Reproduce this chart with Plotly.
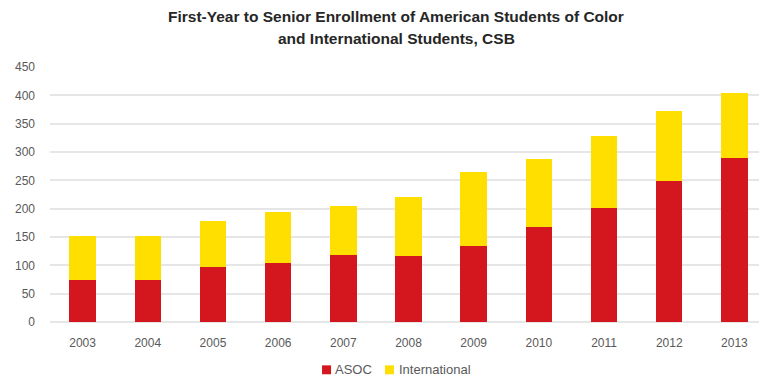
import plotly.graph_objects as go

years = ["2003", "2004", "2005", "2006", "2007", "2008", "2009", "2010", "2011", "2012", "2013"]
asoc = [75, 75, 97, 105, 119, 116, 134, 167, 201, 249, 290]
international = [77, 77, 81, 89, 86, 104, 130, 120, 127, 123, 114]
y_ticks = [0, 50, 100, 150, 200, 250, 300, 350, 400, 450]
series_names = ["ASOC", "International"]
series_colors = ["#D4161E", "#FFDF00"]
title_lines = ["First-Year to Senior Enrollment of American Students of Color",
               "and International Students, CSB"]

FONT = "Liberation Sans Narrow, Arial Narrow, Liberation Sans, sans-serif"

fig = go.Figure()
for name, vals, col in zip(series_names, [asoc, international], series_colors):
    fig.add_trace(go.Bar(x=years, y=vals, name=name, marker=dict(color=col, line=dict(width=0))))

# page body has an 8px margin; figure sized so that the plot lands where the reference has it
fig.update_layout(
    width=759, height=373,
    barmode="stack", bargap=0.594,
    paper_bgcolor="white", plot_bgcolor="white",
    margin=dict(l=42, r=0, t=59, b=59),
    font=dict(family=FONT, size=12, color="#595959"),
    xaxis=dict(showgrid=False, showline=False, ticks="", automargin=False,
               ticklabelstandoff=12, tickfont=dict(size=12, color="#595959")),
    yaxis=dict(range=[0, 450], tickvals=y_ticks, showgrid=True, gridcolor="#E6E6E6", gridwidth=1.5,
               zeroline=True, zerolinecolor="#E6E6E6", zerolinewidth=1.5, ticks="",
               automargin=False, ticklabelstandoff=14, tickfont=dict(size=12, color="#595959")),
    showlegend=False,
)

# title (two lines)
for text, yy in zip(title_lines, [1.197, 1.113]):
    fig.add_annotation(text="<b>" + text + "</b>", xref="paper", yref="paper", x=0.4826, y=yy,
                       xanchor="center", yanchor="middle", showarrow=False,
                       font=dict(family=FONT, size=15.5, color="#262626"))

# legend (swatches + labels)
sw_x = [0.3794, 0.4672]
txt_x = [0.3947, 0.4840]
for name, col, sx, tx in zip(series_names, series_colors, sw_x, txt_x):
    fig.add_shape(type="rect", xref="paper", yref="paper", x0=sx, x1=sx + 0.0126, y0=-0.205, y1=-0.170,
                  fillcolor=col, line=dict(width=0))
    fig.add_annotation(text=name, xref="paper", yref="paper", x=tx, y=-0.188, xanchor="left",
                       yanchor="middle", showarrow=False, font=dict(family=FONT, size=13, color="#595959"))

fig.write_html("out.html")
